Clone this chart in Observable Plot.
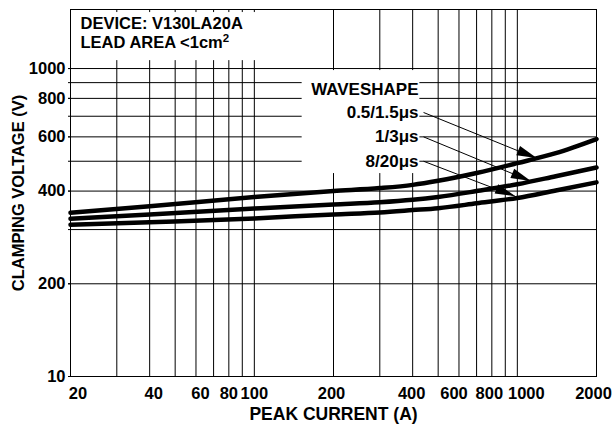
<!DOCTYPE html>
<html><head><meta charset="utf-8">
<script src="https://cdn.jsdelivr.net/npm/d3@7"></script>
<script src="https://cdn.jsdelivr.net/npm/@observablehq/plot@0.6"></script>
<style>
body{margin:0;background:#fff;}
#chart svg{display:block;}
</style></head><body><div id="chart"></div>
<script>
// ---- data ----
const current = [20, 40, 100, 200, 300, 400, 500, 700, 1000, 1400, 2000];
const v0515 = [340, 357, 383, 400, 409, 419, 432, 458, 493, 531, 590];
const v13 = [325, 336, 351, 362, 368, 375, 383, 400, 421, 447, 477];
const v820 = [311, 317, 326, 336, 341, 347, 352, 365, 380, 402, 427];
const waveshapes = ["0.5/1.5μs", "1/3μs", "8/20μs"];
const xTicks = [20, 40, 60, 80, 100, 200, 400, 600, 800, 1000, 2000];
const yTicks = [100, 200, 400, 600, 800, 1000];
const yTickLabels = ["10", "200", "400", "600", "800", "1000"];
const xGrid = [30, 40, 50, 60, 70, 80, 90, 100, 200, 300, 400, 500, 600, 700, 800, 900, 1000];
const yGrid = [100, 200, 300, 400, 500, 600, 700, 800, 900, 1000];
// annotation anchors (data units)
const labelRightX = 421;
const waveshapeTitleY = 855;
const labelY = [720, 600, 500];
const arrowStartX = 440;
const arrowTipX = [1190, 1130, 985];
const arrowTipY = [510, 430, 384];
const deviceBox = {x1: 20, x2: 180, y1: 1061, y2: 1520};
const legendBox = {x1: 152, x2: 426, y1: 456, y2: 985};

// ---- tables ----
const series = [v0515, v13, v820];
const rows = [];
series.forEach((vals, s) => vals.forEach((v, i) => rows.push({wave: waveshapes[s], I: current[i], V: v})));
const arrows = waveshapes.map((w, i) => ({w, x1: arrowStartX, y1: labelY[i], x2: arrowTipX[i], y2: arrowTipY[i]}));
const labels = waveshapes.map((w, i) => ({w, x: labelRightX, y: labelY[i]}));

const font = "'Liberation Sans', Arial, Helvetica, sans-serif";
// small horizontal nudges of crowded x tick labels (styling)
const nudge = {20: 7.5, 40: 4, 60: 4.5, 200: -2, 400: -1, 600: -5, 800: -2.5, 1000: 9, 2000: -3};
const groups = d3.groups(xTicks, d => nudge[d] || 0);
const xLabelMarks = groups.map(([dx, ticks]) => Plot.text(ticks, {
  x: d => d, text: d => String(d), frameAnchor: "bottom", lineAnchor: "top", dy: 10.7, dx, fontSize: 16.5
}));

const chart = Plot.plot({
  width: 612, height: 425,
  marginLeft: 70, marginRight: 16, marginTop: 9, marginBottom: 49,
  style: {fontFamily: font, fontWeight: "bold", fontSize: "16px", color: "black", background: "white"},
  x: {type: "log", domain: [20, 2000], axis: null},
  y: {type: "log", domain: [100, 1555], axis: null},
  marks: [
    Plot.ruleX(xGrid, {x: d => d, stroke: "black", strokeWidth: 1}),
    Plot.ruleY(yGrid, {y: d => d, stroke: "black", strokeWidth: 1}),
    Plot.rect([deviceBox], {x1: "x1", x2: "x2", y1: "y1", y2: "y2", fill: "white"}),
    Plot.rect([legendBox], {x1: "x1", x2: "x2", y1: "y1", y2: "y2", fill: "white"}),
    Plot.line(rows, {x: "I", y: "V", z: "wave", stroke: "black", strokeWidth: 4.5, curve: "monotone-x"}),
    Plot.link(arrows, {x1: "x1", y1: "y1", x2: "x2", y2: "y2", stroke: "black", strokeWidth: 1}),
    Plot.text(["WAVESHAPE"], {x: () => labelRightX, y: () => waveshapeTitleY, textAnchor: "end", fontSize: 17}),
    Plot.text(labels, {x: "x", y: "y", text: "w", textAnchor: "end", fontSize: 17}),
    Plot.text(["DEVICE: V130LA20A"], {frameAnchor: "top-left", dx: 10, dy: 8, textAnchor: "start", lineAnchor: "top", fontSize: 16.5}),
    Plot.text(["LEAD AREA <1cm2"], {frameAnchor: "top-left", dx: 10, dy: 27, textAnchor: "start", lineAnchor: "top", fontSize: 16.5}),
    Plot.axisY(yGrid, {tickSize: 2, tickFormat: () => ""}),
    Plot.axisY(yTicks, {tickSize: 2, tickPadding: 3, tickFormat: d => yTickLabels[yTicks.indexOf(d)], fontSize: 16.5, label: null}),
    ...xLabelMarks,
    Plot.text(["CLAMPING VOLTAGE (V)"], {frameAnchor: "left", dx: -52, rotate: -90, textAnchor: "middle", fontSize: 16.5}),
    Plot.text(["PEAK CURRENT (A)"], {frameAnchor: "bottom", dy: 43, fontSize: 17.5}),
    Plot.frame({stroke: "black", strokeWidth: 1})
  ]
});
document.getElementById("chart").appendChild(chart);

// arrowheads via the plot's own scales
const sx = chart.scale("x"), sy = chart.scale("y");
const svg = d3.select(chart);
arrows.forEach(a => {
  const x1 = sx.apply(a.x1), y1 = sy.apply(a.y1), x2 = sx.apply(a.x2), y2 = sy.apply(a.y2);
  const ang = Math.atan2(y2 - y1, x2 - x1), L = 20, W = 5;
  const bx = x2 - L * Math.cos(ang), by = y2 - L * Math.sin(ang);
  const px = -Math.sin(ang) * W, py = Math.cos(ang) * W;
  svg.append("polygon").attr("points", `${x2},${y2} ${bx + px},${by + py} ${bx - px},${by - py}`).attr("fill", "black");
});
// superscript 2 in cm²
svg.selectAll("text").filter(function () { return this.textContent === "LEAD AREA <1cm2"; }).each(function () {
  const t = d3.select(this);
  t.text("LEAD AREA <1cm");
  t.append("tspan").attr("dy", "-0.55em").attr("font-size", "11.5px").text("2");
});
</script></body></html>
